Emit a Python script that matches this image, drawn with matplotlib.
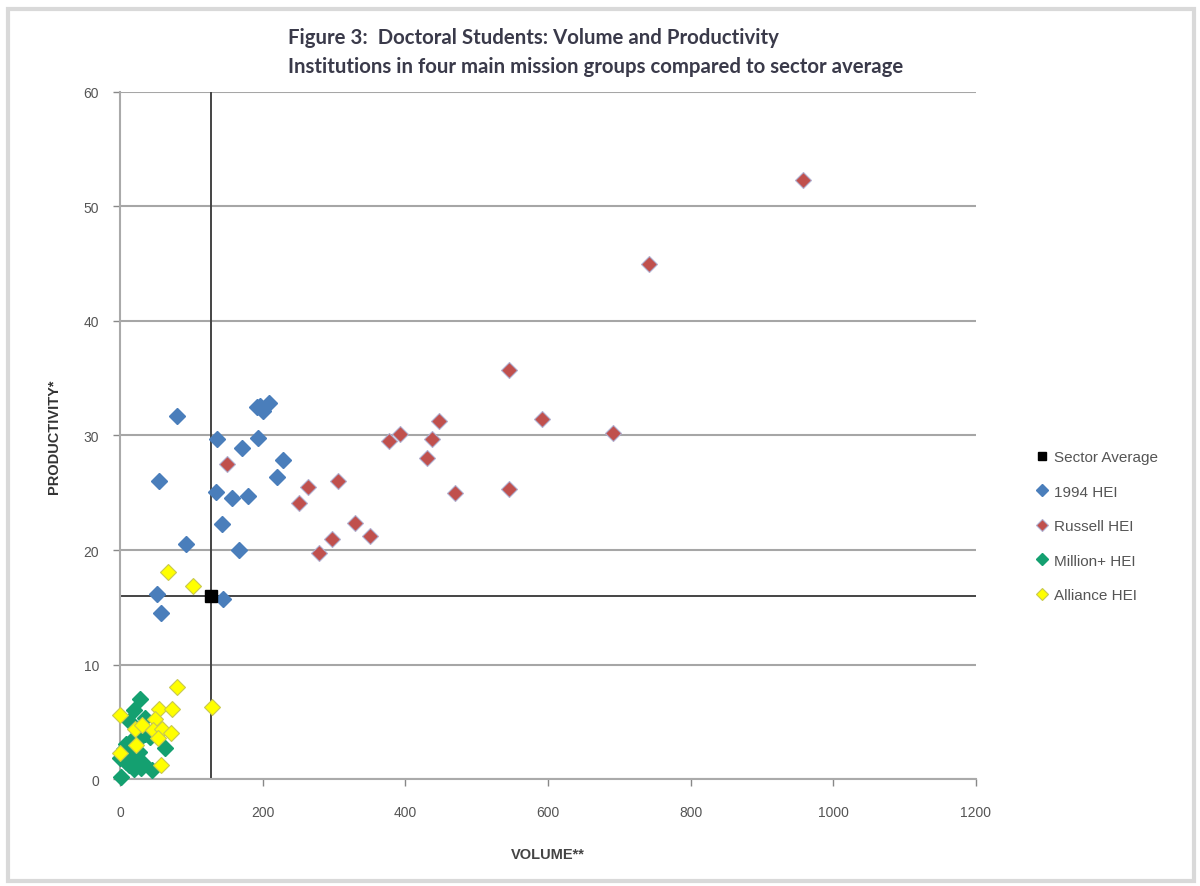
import matplotlib
matplotlib.use("Agg")
import matplotlib.pyplot as plt
from matplotlib.patches import Rectangle

# ---- data ----
sector_avg_x = [127.6]
sector_avg_y = [16.0]

hei1994_x = [79.5, 192, 201, 209, 196, 135.5, 194, 170.6, 228, 220, 55, 134.6, 157.5, 179, 143.4, 92.5, 166.8, 51.4, 144.8, 57]
hei1994_y = [31.7, 32.5, 32.1, 32.8, 32.6, 29.7, 29.8, 28.9, 27.9, 26.4, 26.0, 25.1, 24.5, 24.7, 22.3, 20.5, 20.0, 16.2, 15.7, 14.5]

russell_x = [149.5, 264, 251, 305, 279, 297, 330, 350, 377, 392, 447, 437, 430, 469, 546, 591, 546, 691, 742, 958]
russell_y = [27.5, 25.5, 24.1, 26.0, 19.7, 21.0, 22.4, 21.2, 29.5, 30.1, 31.3, 29.7, 28.0, 25.0, 35.7, 31.4, 25.3, 30.2, 45.0, 52.3]

million_x = [28, 19, 12, 35, 24, 35, 28, 18, 42, 9, 5, 63, 14, 0, 8, 22, 32, 19, 30, 45, 2, 12, 26, 20]
million_y = [7.0, 6.0, 5.1, 5.3, 4.3, 3.9, 3.6, 3.5, 3.7, 3.1, 2.6, 2.7, 2.1, 1.8, 1.5, 1.5, 1.4, 0.9, 1.0, 0.8, 0.2, 1.2, 2.4, 2.8]

alliance_x = [67.7, 102.8, 79.5, 0, 55, 72.4, 48.5, 21, 30.4, 46.5, 58.4, 71.5, 53.8, 23, 0.5, 57.5, 128.5]
alliance_y = [18.1, 16.9, 8.0, 5.6, 6.1, 6.1, 5.2, 4.4, 4.7, 4.3, 4.4, 4.0, 3.55, 2.95, 2.3, 1.2, 6.25]

xticks = [0, 200, 400, 600, 800, 1000, 1200]
yticks = [0, 10, 20, 30, 40, 50, 60]

title_lines = ["Figure 3:  Doctoral Students: Volume and Productivity",
               "Institutions in four main mission groups compared to sector average"]

# ---- figure ----
plt.rcParams['font.family'] = ['Liberation Sans', 'DejaVu Sans']
fig = plt.figure(figsize=(12, 8.87), dpi=100)
fig.patches.append(Rectangle((0.007, 0.006), 0.988, 0.983, transform=fig.transFigure,
                             fill=False, edgecolor='#d9d9d9', linewidth=3))

ax = fig.add_axes([0.1, 0.1206, 0.7133, 0.7746])
ax.set_xlim(0, 1200)
ax.set_ylim(0, 60)
ax.set_xticks(xticks)
ax.set_yticks(yticks)
ax.tick_params(axis='both', colors='#888888', labelcolor='#555555', labelsize=10,
               length=5, width=1, direction='out')
ax.tick_params(axis='x', pad=14)
ax.tick_params(axis='y', pad=10)
for s in ['top', 'right']:
    ax.spines[s].set_visible(False)
for s in ['left', 'bottom']:
    ax.spines[s].set_color('#aaaaaa')
    ax.spines[s].set_linewidth(1.5)
ax.yaxis.grid(True, color='#a6a6a6', linewidth=1.5)
ax.set_axisbelow(True)

# sector average cross lines
ax.axvline(sector_avg_x[0], color='#444444', linewidth=1.4, zorder=2)
ax.axhline(sector_avg_y[0], color='#444444', linewidth=1.4, zorder=2)

ms = 8
ax.plot(sector_avg_x, sector_avg_y, linestyle='none', marker='s', markersize=8,
        color='black', label='Sector Average', zorder=5, clip_on=False)
ax.plot(hei1994_x, hei1994_y, linestyle='none', marker='D', markersize=ms,
        markerfacecolor='#4a7ebb', markeredgecolor='#4a7ebb', label='1994 HEI', zorder=4, clip_on=False)
ax.plot(russell_x, russell_y, linestyle='none', marker='D', markersize=ms,
        markerfacecolor='#c0504d', markeredgecolor='#b0b0d0', markeredgewidth=0.8, label='Russell HEI', zorder=4, clip_on=False)
ax.plot(million_x, million_y, linestyle='none', marker='D', markersize=ms,
        markerfacecolor='#14a070', markeredgecolor='#14a070', label='Million+ HEI', zorder=4, clip_on=False)
ax.plot(alliance_x, alliance_y, linestyle='none', marker='D', markersize=ms,
        markerfacecolor='#ffff00', markeredgecolor='#c8c850', markeredgewidth=0.8, label='Alliance HEI', zorder=4, clip_on=False)

leg = ax.legend(loc='center left', bbox_to_anchor=(1.052, 0.368), frameon=False,
                fontsize=11, labelspacing=1.35, handletextpad=0.3, handlelength=1.0,
                markerscale=0.8)
for t in leg.get_texts():
    t.set_color('#555555')

ax.set_xlabel('VOLUME**', fontsize=10.5, fontweight='bold', color='#444444', labelpad=20)
ax.set_ylabel('PRODUCTIVITY*', fontsize=10.5, fontweight='bold', color='#333333', labelpad=16)

fig.text(0.24, 0.957, title_lines[0], fontsize=14.7, fontweight='bold', color='#3a3a4a',
         family=['Lato', 'DejaVu Sans'], ha='left', va='center')
fig.text(0.24, 0.925, title_lines[1], fontsize=14.7, fontweight='bold', color='#3a3a4a',
         family=['Lato', 'DejaVu Sans'], ha='left', va='center')

fig.savefig('out.png', dpi=100)
